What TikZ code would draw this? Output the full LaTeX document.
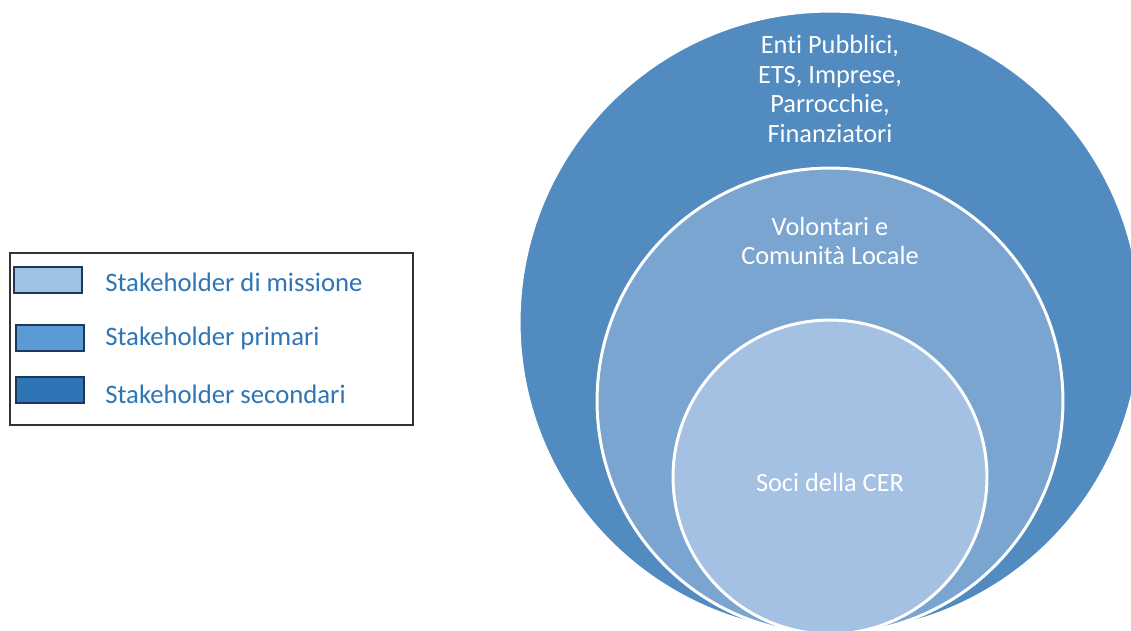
\documentclass[tikz,border=0pt]{standalone}
\usepackage{fontspec}
\setmainfont{Carlito}[Ligatures=NoCommon]
\usetikzlibrary{positioning}

\definecolor{outerblue}{RGB}{81,139,192}
\definecolor{midblue}{RGB}{123,165,209}
\definecolor{innerblue}{RGB}{164,192,227}
\definecolor{missionblue}{RGB}{157,195,230}
\definecolor{primblue}{RGB}{91,155,213}
\definecolor{secblue}{RGB}{46,117,182}
\definecolor{swatchline}{RGB}{31,56,90}
\definecolor{legendtext}{RGB}{46,117,182}

\begin{document}
\begin{tikzpicture}[x=0.02cm,y=-0.02cm,
   ring/.style={circle, draw=white, line width=1.7pt, inner sep=0pt},
   ringtext/.style={text=white, align=center, font=\fontsize{15}{16.9}\selectfont},
   swatch/.style={draw=swatchline, line width=1.4pt, minimum width=1.4cm-\pgflinewidth, minimum height=0.56cm-\pgflinewidth, inner sep=0pt},
   legtext/.style={text=legendtext, anchor=west, inner sep=0pt, font=\fontsize{15.2}{17}\selectfont}]
   \useasboundingbox (0,0) rectangle (1131,630);
   \clip (0,0) rectangle (1131,630);

   % nested circles
   \node[ring, fill=outerblue, minimum size=12.44cm] (outer) at (830,322) {};
   \node[ring, fill=midblue, minimum size=9.32cm] (middle) at (830,401) {};
   \node[ring, fill=innerblue, minimum size=6.28cm] (inner) at (830,477) {};

   \node[ringtext] (outerlbl) at (830,89) {Enti Pubblici,\\ETS, Imprese,\\Parrocchie,\\Finanziatori};
   \node[ringtext] (midlbl) at (830,241) {Volontari e\\Comunità Locale};
   \node[ringtext] (innerlbl) at (830,482) {Soci della CER};

   % legend
   \draw[black!80, line width=0.6pt] (10,253) rectangle (413,425);
   \node[swatch, fill=missionblue] (sw1) at (48,280) {};
   \node[swatch, fill=primblue] (sw2) at (50,338) {};
   \node[swatch, fill=secblue] (sw3) at (50,390) {};
   \node[legtext] (lg1) at (105,282) {Stakeholder di missione};
   \node[legtext] (lg2) at (105,338) {Stakeholder primari};
   \node[legtext] (lg3) at (105,394) {Stakeholder secondari};
\end{tikzpicture}
\end{document}
